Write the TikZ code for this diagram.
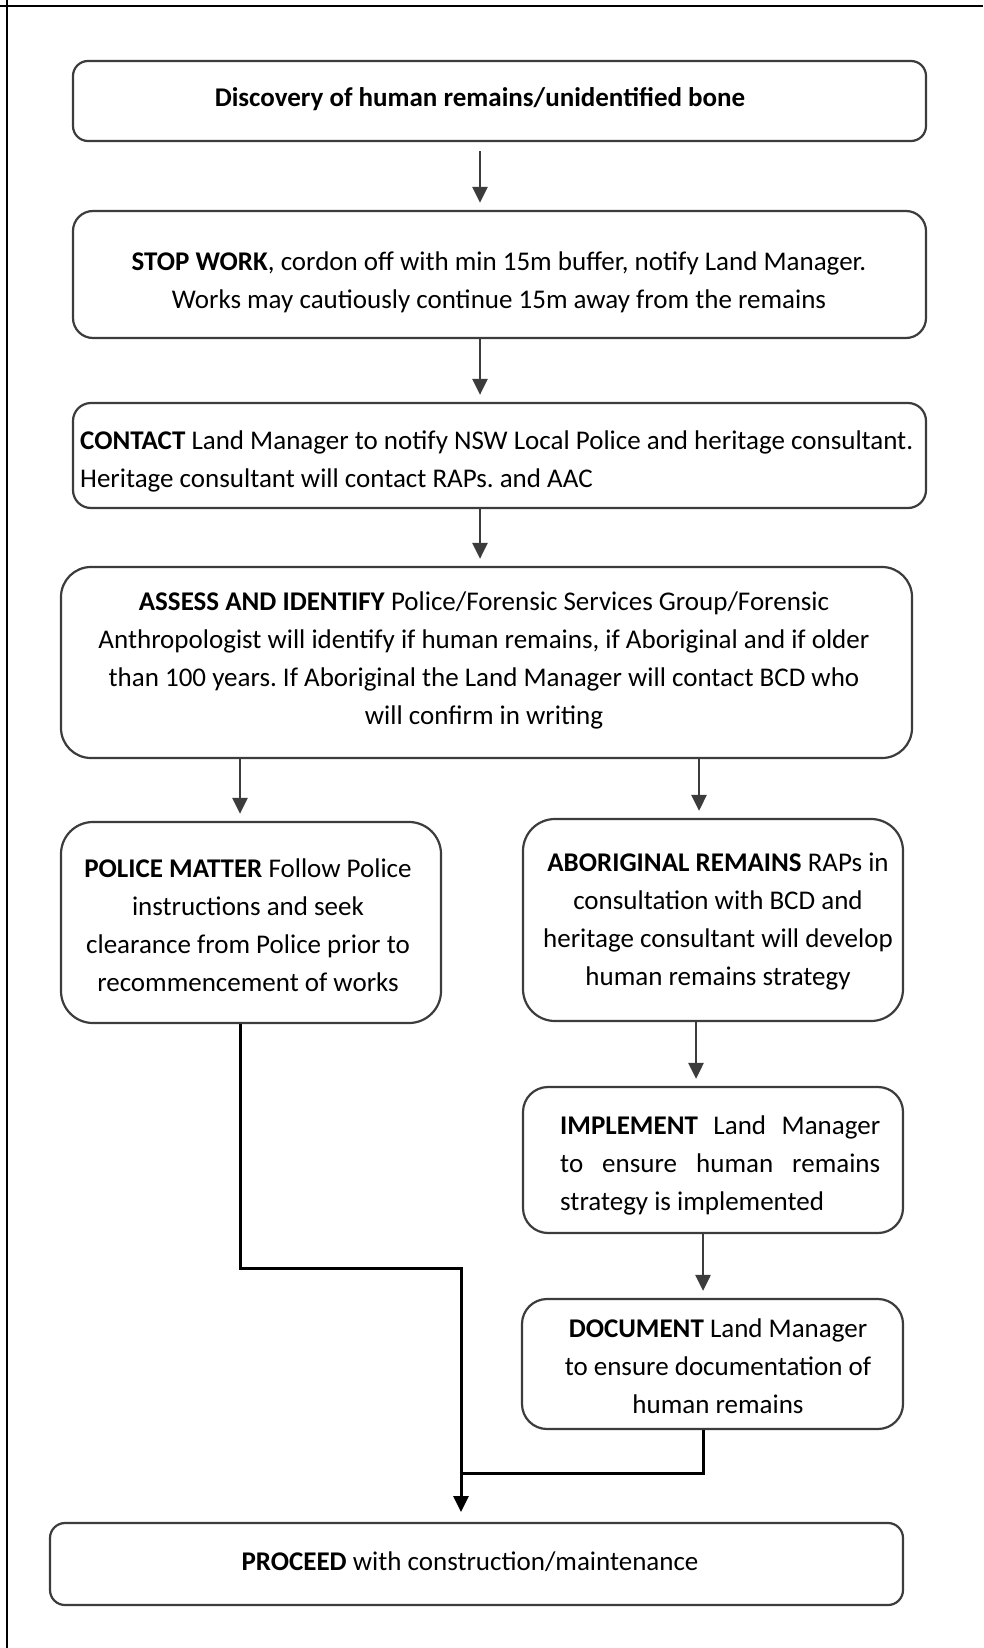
\documentclass[tikz,border=0pt]{standalone}
\usepackage{fontspec}
\setmainfont{Carlito}
\frenchspacing
\usetikzlibrary{arrows.meta}
\definecolor{boxgray}{HTML}{3C3C3C}
\tikzset{
  flowbox/.style={draw=boxgray, line width=2.2pt, fill=white, inner sep=0pt},
  txt/.style={inner sep=0pt, align=center, font=\fontsize{27}{38}\selectfont},
  arr/.style={draw=boxgray, line width=2.8pt, -{Triangle[width=15pt,length=16pt]}, shorten >=7pt},
  blk/.style={draw=black, line width=3pt},
  blkarr/.style={draw=black, line width=3pt, -{Triangle[width=15pt,length=16pt]}},
  frame/.style={draw=black, line width=2pt}
}
\begin{document}
\begin{tikzpicture}[x=1pt,y=-1pt]
\useasboundingbox (0,0) rectangle (983,1648);
\draw[frame] (0,6) -- (983,6);
\draw[frame] (7,0) -- (7,1648);
% boxes
\node[flowbox, rounded corners=15pt, minimum width=853pt, minimum height=80pt] (b1) at (499.5,101) {};
\node[flowbox, rounded corners=20pt, minimum width=853pt, minimum height=127pt] (b2) at (499.5,274.5) {};
\node[flowbox, rounded corners=18pt, minimum width=853pt, minimum height=105pt] (b3) at (499.5,455.5) {};
\node[flowbox, rounded corners=30pt, minimum width=851pt, minimum height=191pt] (b4) at (486.5,662.5) {};
\node[flowbox, rounded corners=32pt, minimum width=380pt, minimum height=201pt] (b5) at (251,922.5) {};
\node[flowbox, rounded corners=32pt, minimum width=380pt, minimum height=202pt] (b6) at (713,920) {};
\node[flowbox, rounded corners=25pt, minimum width=380pt, minimum height=146pt] (b7) at (713,1160) {};
\node[flowbox, rounded corners=25pt, minimum width=381pt, minimum height=130pt] (b8) at (712.5,1364) {};
\node[flowbox, rounded corners=15pt, minimum width=853pt, minimum height=82pt] (b9) at (476.5,1564) {};
% texts
\node[txt] (t1) at (480,99) {\textbf{Discovery of human remains/unidentified bone}};
\node[txt] (t2) at (499,282) {\textbf{STOP WORK}, cordon off with min 15m buffer, notify Land Manager.\\Works may cautiously continue 15m away from the remains};
\node[txt, align=left, anchor=west] (t3) at (80,461) {\textbf{CONTACT} Land Manager to notify NSW Local Police and heritage consultant.\\Heritage consultant will contact RAPs. and AAC};
\node[txt] (t4) at (484,660) {\textbf{ASSESS AND IDENTIFY} Police/Forensic Services Group/Forensic\\Anthropologist will identify if human remains, if Aboriginal and if older\\than 100 years. If Aboriginal the Land Manager will contact BCD who\\will confirm in writing};
\node[txt] (t5) at (248,925) {\textbf{POLICE MATTER} Follow Police\\instructions and seek\\clearance from Police prior to\\recommencement of works};
\node[txt] (t6) at (718,922) {\textbf{ABORIGINAL REMAINS} RAPs in\\consultation with BCD and\\heritage consultant will develop\\human remains strategy};
\node[txt, align=left, anchor=west] (t7) at (560,1165) {\makebox[320pt][s]{\textbf{IMPLEMENT} Land Manager}\\\makebox[320pt][s]{to ensure human remains}\\strategy is implemented};
\node[txt] (t8) at (718,1366) {\textbf{DOCUMENT} Land Manager\\to ensure documentation of\\human remains};
\node[txt] (t9) at (470,1562) {\textbf{PROCEED} with construction/maintenance};
% arrows
\draw[arr, shorten <=9pt] ([xshift=-19.5pt]b1.south) -- ([xshift=-19.5pt]b2.north);
\draw[arr] ([xshift=-19.5pt]b2.south) -- ([xshift=-19.5pt]b3.north);
\draw[arr] ([xshift=-19.5pt]b3.south) -- ([xshift=-6.5pt]b4.north);
\draw[arr] ([xshift=-246.5pt]b4.south) -- ([xshift=-11pt]b5.north);
\draw[arr] ([xshift=212.5pt]b4.south) -- ([xshift=-14pt]b6.north);
\draw[arr] ([xshift=-17pt]b6.south) -- ([xshift=-17pt]b7.north);
\draw[arr] ([xshift=-10pt]b7.south) -- ([xshift=-9.5pt]b8.north);
% joining lines to PROCEED
\coordinate (c1) at (240,1268);
\coordinate (c2) at (461,1268);
\coordinate (c3) at (703,1473);
\coordinate (c4) at (461,1473);
\coordinate (c5) at (461,1512);
\draw[blk] ([xshift=-11pt]b5.south) -- (c1) -- (c2) -- (c4);
\draw[blk] ([xshift=-9.5pt]b8.south) -- (c3) -- (c4);
\draw[blkarr] (c4) -- (c5);
\end{tikzpicture}
\end{document}
